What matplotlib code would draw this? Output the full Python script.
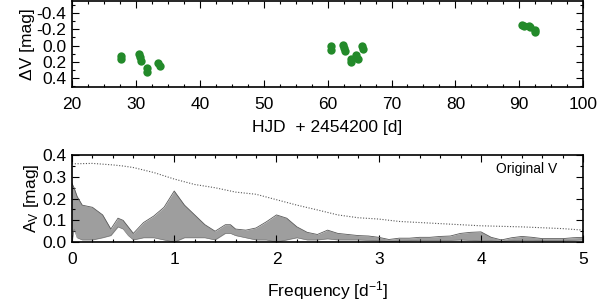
import matplotlib
matplotlib.use('Agg')
import matplotlib.pyplot as plt
from matplotlib.ticker import MultipleLocator, FormatStrFormatter

# light curve (top panel)
hjd = [27.6, 27.6, 30.5, 30.6, 30.8, 31.7, 31.7, 33.5, 33.7,
       60.6, 60.6, 62.4, 62.6, 62.8, 63.6, 63.7, 64.5, 64.7, 65.4, 65.6,
       90.5, 90.7, 91.5, 91.7, 92.4, 92.5]
dv = [0.13, 0.17, 0.10, 0.14, 0.19, 0.28, 0.32, 0.21, 0.25,
      0.00, 0.05, -0.01, 0.03, 0.07, 0.16, 0.20, 0.12, 0.16, 0.00, 0.04,
      -0.25, -0.24, -0.24, -0.23, -0.19, -0.17]

# amplitude spectrum (bottom panel), upper / lower envelope
freq = [0.0, 0.02, 0.05, 0.1, 0.2, 0.3, 0.38, 0.45, 0.5, 0.55, 0.6, 0.7, 0.8, 0.9,
        1.0, 1.1, 1.2, 1.3, 1.4, 1.5, 1.55, 1.6, 1.7, 1.8, 1.9, 2.0, 2.1, 2.2,
        2.3, 2.4, 2.5, 2.6, 2.7, 2.8, 2.9, 3.0, 3.1, 3.2, 3.3, 3.4, 3.5, 3.6,
        3.7, 3.8, 3.9, 4.0, 4.1, 4.2, 4.3, 4.4, 4.5, 4.6, 4.7, 4.8, 4.9, 5.0]
amp_hi = [0.27, 0.25, 0.21, 0.17, 0.16, 0.125, 0.06, 0.11, 0.10, 0.07, 0.04, 0.09, 0.12, 0.16,
          0.235, 0.17, 0.125, 0.08, 0.05, 0.08, 0.08, 0.06, 0.055, 0.065, 0.093, 0.125, 0.11, 0.07,
          0.045, 0.035, 0.055, 0.04, 0.035, 0.03, 0.028, 0.022, 0.012, 0.018, 0.018, 0.022, 0.022, 0.026,
          0.028, 0.04, 0.045, 0.047, 0.022, 0.01, 0.02, 0.026, 0.022, 0.016, 0.016, 0.016, 0.02, 0.022]
amp_lo = [0.0, 0.06, 0.02, 0.01, 0.01, 0.02, 0.03, 0.07, 0.06, 0.03, 0.01, 0.02, 0.02, 0.01,
          0.0, 0.02, 0.02, 0.02, 0.01, 0.04, 0.04, 0.03, 0.02, 0.01, 0.01, 0.0, 0.01, 0.02,
          0.01, 0.01, 0.015, 0.01, 0.01, 0.01, 0.008, 0.006, 0.003, 0.005, 0.006, 0.008, 0.008, 0.008,
          0.008, 0.01, 0.008, 0.005, 0.006, 0.003, 0.006, 0.008, 0.008, 0.006, 0.006, 0.006, 0.008, 0.01]

# dotted significance curve
sig_f = [0.0, 0.2, 0.4, 0.5, 0.6, 0.8, 1.0, 1.2, 1.4, 1.6, 1.8, 2.0, 2.2, 2.4, 2.6,
         2.8, 3.0, 3.2, 3.6, 4.0, 4.4, 4.8, 5.0]
sig_a = [0.36, 0.362, 0.355, 0.35, 0.343, 0.32, 0.29, 0.265, 0.25, 0.23, 0.22, 0.195, 0.17,
         0.148, 0.125, 0.112, 0.106, 0.095, 0.085, 0.075, 0.07, 0.062, 0.055]

plt.rcParams['font.family'] = ['Liberation Sans', 'DejaVu Sans']
plt.rcParams['axes.unicode_minus'] = False
plt.rcParams['mathtext.fontset'] = 'custom'
plt.rcParams['mathtext.rm'] = 'Liberation Sans'
plt.rcParams['mathtext.it'] = 'Liberation Sans'

fig = plt.figure(figsize=(6, 3.03), dpi=100)
ax1 = fig.add_axes([0.12, 0.713, 0.852, 0.284])
ax2 = fig.add_axes([0.12, 0.201, 0.852, 0.287])

ax1.plot(hjd, dv, 'o', color='#238a2a', markersize=6, markeredgewidth=0)
ax1.set_xlim(20, 100)
ax1.set_ylim(0.51, -0.55)
ax1.xaxis.set_major_locator(MultipleLocator(10))
ax1.xaxis.set_minor_locator(MultipleLocator(2.5))
ax1.yaxis.set_major_locator(MultipleLocator(0.2))
ax1.yaxis.set_minor_locator(MultipleLocator(0.1))
ax1.yaxis.set_major_formatter(FormatStrFormatter('%.1f'))
ax1.set_xlabel('HJD  + 2454200 [d]', fontsize=12.5, labelpad=6)
ax1.set_ylabel('ΔV [mag]', fontsize=12.5, labelpad=1)

ax2.fill_between(freq, amp_lo, amp_hi, color='0.62', linewidth=0)
ax2.plot(freq, amp_hi, color='0.35', linewidth=0.6)
ax2.plot(freq, amp_lo, color='0.45', linewidth=0.4)
ax2.plot(sig_f, sig_a, color='0.35', linestyle=(0, (1, 1.5)), linewidth=0.8)
ax2.text(0.95, 0.84, 'Original V', transform=ax2.transAxes, ha='right', va='center',
         fontsize=10)
ax2.set_xlim(0, 5)
ax2.set_ylim(0, 0.4)
ax2.xaxis.set_major_locator(MultipleLocator(1))
ax2.xaxis.set_minor_locator(MultipleLocator(0.2))
ax2.yaxis.set_major_locator(MultipleLocator(0.1))
ax2.yaxis.set_minor_locator(MultipleLocator(0.05))
ax2.yaxis.set_major_formatter(FormatStrFormatter('%.1f'))
ax2.set_xlabel('Frequency [d$^{\\mathregular{-1}}$]', fontsize=12.5, labelpad=9)
ax2.set_ylabel('A$_\\mathregular{V}$ [mag]', fontsize=12.5, labelpad=1)

for ax in (ax1, ax2):
    for s in ax.spines.values():
        s.set_linewidth(1.2)
    ax.tick_params(which='both', direction='in', top=True, right=True, labelsize=12.5)
    ax.tick_params(which='major', length=5, width=0.8, pad=7)
    ax.tick_params(which='minor', length=2.5, width=0.8)
    ax.tick_params(axis='y', pad=4)

fig.savefig('out.png', dpi=100)
